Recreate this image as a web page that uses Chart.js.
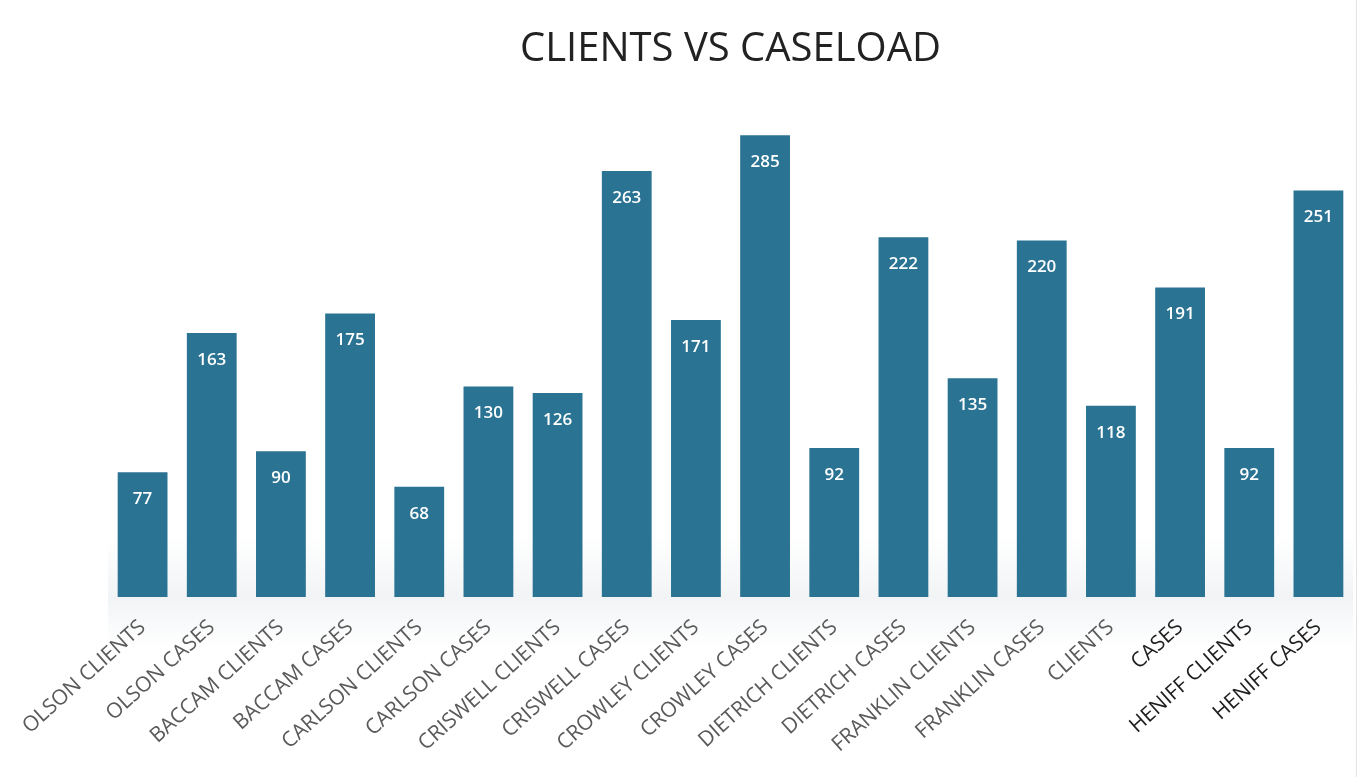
<!DOCTYPE html>
<html>
<head>
<meta charset="utf-8">
<script src="https://cdn.jsdelivr.net/npm/chart.js@4.4.1/dist/chart.umd.min.js"></script>
<style>
  html, body { margin: 0; padding: 0; background: #fff; }
  #wrap { width: 1363px; height: 777px; position: relative; }
</style>
</head>
<body>
<div id="wrap"><canvas id="caseloadChart"></canvas></div>
<script>
// 데이터
const categories = [
    'OLSON CLIENTS', 'OLSON CASES', 'BACCAM CLIENTS', 'BACCAM CASES',
    'CARLSON CLIENTS', 'CARLSON CASES', 'CRISWELL CLIENTS', 'CRISWELL CASES',
    'CROWLEY CLIENTS', 'CROWLEY CASES', 'DIETRICH CLIENTS', 'DIETRICH CASES',
    'FRANKLIN CLIENTS', 'FRANKLIN CASES', 'CLIENTS', 'CASES',
    'HENIFF CLIENTS', 'HENIFF CASES'
];
const values = [77, 163, 90, 175, 68, 130, 126, 263, 171, 285, 92, 222, 135, 220, 118, 191, 92, 251];
const tickColors = [
    '#5a5a5a', '#5a5a5a', '#5a5a5a', '#5a5a5a', '#5a5a5a', '#5a5a5a',
    '#5a5a5a', '#5a5a5a', '#5a5a5a', '#5a5a5a', '#5a5a5a', '#5a5a5a',
    '#5a5a5a', '#5a5a5a', '#5a5a5a', '#1e1e1e', '#1e1e1e', '#1e1e1e'
];

// 배경 + 막대 아래 그림자
const backdropPlugin = {
    id: 'backdrop',
    beforeDraw(chart) {
        const { ctx, chartArea } = chart;
        ctx.save();
        ctx.fillStyle = '#fff';
        ctx.fillRect(0, 0, chart.width, chart.height);
        const g = ctx.createLinearGradient(0, chartArea.bottom - 60, 0, chartArea.bottom + 50);
        g.addColorStop(0, 'rgba(220,226,231,0)');
        g.addColorStop(0.55, 'rgba(220,226,231,0.4)');
        g.addColorStop(1, 'rgba(220,226,231,0)');
        ctx.fillStyle = g;
        ctx.fillRect(chartArea.left, chartArea.bottom - 60, chartArea.right - chartArea.left, 110);
        ctx.strokeStyle = '#e3e3e3';
        ctx.lineWidth = 1;
        ctx.beginPath();
        ctx.moveTo(1356.5, 0);
        ctx.lineTo(1356.5, chart.height);
        ctx.stroke();
        ctx.restore();
    }
};

// 막대 안쪽 값 라벨
const valueLabelPlugin = {
    id: 'valueLabels',
    afterDatasetsDraw(chart) {
        const { ctx } = chart;
        const meta = chart.getDatasetMeta(0);
        ctx.save();
        ctx.fillStyle = '#ffffff';
        ctx.font = '600 17px "Open Sans"';
        ctx.textAlign = 'center';
        ctx.textBaseline = 'middle';
        meta.data.forEach((bar, i) => {
            ctx.fillText(String(values[i]), bar.x, bar.y + 27);
        });
        ctx.restore();
    }
};

const ctx = document.getElementById('caseloadChart');
const chart = new Chart(ctx, {
    type: 'bar',
    data: {
        labels: categories,
        datasets: [{
            label: 'Caseload',
            data: values,
            backgroundColor: '#2a7393',
            borderWidth: 0,
            categoryPercentage: 0.72,
            barPercentage: 1.0
        }]
    },
    options: {
        responsive: true,
        maintainAspectRatio: false,
        animation: false,
        layout: { padding: { left: 108, right: 10, top: 0, bottom: 0 } },
        plugins: {
            legend: { display: false },
            tooltip: { enabled: false },
            title: {
                display: true,
                text: 'CLIENTS VS CASELOAD',
                color: '#222',
                font: { family: '"Open Sans"', size: 40, weight: 'normal' },
                padding: { top: 26, bottom: 37 }
            }
        },
        scales: {
            x: {
                grid: { display: false, drawTicks: false },
                border: { display: false },
                ticks: {
                    color: tickColors,
                    font: { family: '"Open Sans"', size: 21 },
                    maxRotation: 42,
                    minRotation: 42,
                    padding: 18,
                    autoSkip: false
                },
                afterFit: s => { s.height = 180; }
            },
            y: {
                display: false,
                min: 0,
                max: 300
            }
        }
    },
    plugins: [backdropPlugin, valueLabelPlugin]
});
</script>
</body>
</html>
